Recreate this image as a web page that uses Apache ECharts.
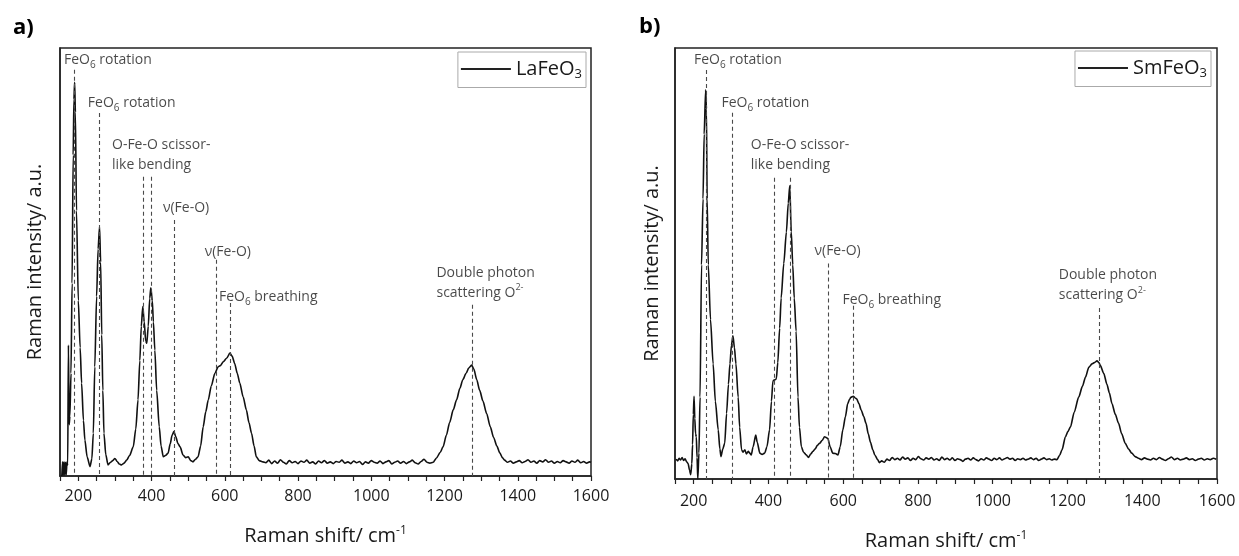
<!DOCTYPE html>
<html>
<head>
<meta charset="utf-8">
<script src="https://cdn.jsdelivr.net/npm/echarts@6/dist/echarts.min.js"></script>
<style>html,body{margin:0;padding:0;background:#fff}#c{width:1239px;height:556px}</style>
</head>
<body>
<div id="c"></div>
<script>
// ---------- Panel a: LaFeO3 ----------
const laX = [155,157,159,161,163,165,167,169,171,173,175,177,180,183,186,188,190,192,195,200,205,209,214,218,224,232,237,241,245,250,254,258,261,264,267,270,275,281,288,294,300,306,312,318,325,332,340,350,357,363,368,372,376,380,384,387,391,395,398,402,405,409,414,421,426,432,438,445,451,456,461,466,472,478,486,493,500,507,513,520,527,534,541,548,555,563,573,582,588,596,605,614,620,627,634,641,650,659,666,673,680,686,694,704,712,720,728,736,744,752,760,768,776,784,792,800,808,816,824,832,840,848,856,864,872,880,888,896,904,912,920,928,936,944,952,960,968,976,984,992,1000,1008,1016,1024,1032,1040,1048,1056,1064,1072,1080,1088,1096,1104,1112,1120,1128,1136,1144,1152,1160,1169,1178,1188,1196,1205,1214,1224,1233,1242,1250,1259,1266,1274,1280,1288,1296,1305,1315,1325,1334,1343,1351,1358,1364,1372,1380,1388,1396,1404,1412,1420,1428,1436,1444,1452,1460,1468,1476,1484,1492,1500,1508,1516,1524,1532,1540,1548,1556,1564,1572,1580,1588,1596,1600];
const laY = [0,3.3,0.2,3.3,0.2,3.2,0.3,3.3,2.5,30.6,12,14,24,45,75,88,92,85,62,41,30,21.7,13,8.4,4.5,2.2,4,10,25.5,42,53,58.2,50,33,20,10,5,2.6,3.2,3.6,4.1,3.4,2.8,2.6,3.0,3.7,4.8,6.8,11,17.8,27,35,39.6,36,31.5,31,35,41.5,44,41,36,29.4,20,11.5,7,4.5,4.8,5.3,7.5,9.5,10.4,9.2,7.6,6.8,4.9,4.3,4.5,3.6,3.3,3.9,4.5,7,11.5,15,17.8,21,24,25.5,25.8,26.7,27.5,28.7,28,26.3,24,21.7,18.5,15.4,12.5,10,7,4.5,3.6,3.3,3.1,3.7,2.9,3.5,3.0,3.8,3.2,2.8,3.6,3.1,3.4,2.9,3.5,3.2,3.7,3.0,3.3,2.8,3.5,3.1,3.6,3.0,3.3,2.9,3.4,3.2,3.7,3.0,3.3,2.9,3.5,3.1,3.4,2.7,3.3,3.0,3.6,3.2,3.0,3.5,2.9,3.3,3.6,2.8,3.2,3.5,3.0,3.4,2.9,3.3,3.7,3.1,2.8,3.4,3.9,3.2,3.0,3.2,4.2,5.5,6.8,9.5,12.5,15.5,17.8,20.5,22.5,24,25.2,25.9,25,22.5,20,17.5,14.6,11.5,9,7,5.4,4.3,3.7,3.2,3.5,3.0,3.3,3.6,3.1,3.4,3.8,3.2,3.5,3.0,3.6,3.3,3.8,3.2,3.5,3.0,3.4,3.1,3.6,3.3,3.0,3.5,3.2,3.7,3.1,3.4,3.0,3.3,3.2];
const laPeaks = [190,258,377,400,462,578,615,1275];
const laPeakTops = [94.9,84.8,69.9,69.9,59.8,50.5,40.4,40.0];
const laLabelTexts = ['FeO{sub|6} rotation','FeO{sub|6} rotation','O-Fe-O scissor-\nlike bending','ν(Fe-O)','ν(Fe-O)','FeO{sub|6} breathing','Double photon\nscattering O{sup|2-}'];
const laLabelX = [161,226,292,431,545,584,1178];
const laLabelY = [97.2,87.1,74.9,62.6,52.3,41.8,45.1];

// ---------- Panel b: SmFeO3 ----------
const smX = [153,157,161,165,169,173,177,181,185,189,192,195,197,199,201,203,205,207,209,211,214,217,221,225,228,232,234,236,239,245,252,258,265.6,270,273,278,283,288,293,297,301,305,309,313,319,323,328,332,337,341,346,350,354,359,366,370,377,383,390,396,403,408,412,417,421,425,430,434,441,448,453,457,461,465,469,474,479,483,488,494,501,507,513,519,525,531,537,544,550,555,559,565,572,579,586,592,599,606,612,617,621,627,632,636,642,648,655,661,667,673,679,685,692,697,703,710,717,724,731,738,745,752,759,766,773,780,787,794,801,808,815,822,829,836,843,850,857,864,871,878,885,892,899,906,913,920,927,934,941,948,955,962,969,976,983,990,997,1004,1011,1018,1025,1032,1039,1046,1053,1060,1067,1074,1081,1088,1095,1102,1109,1116,1123,1130,1137,1144,1151,1158,1165,1172,1179,1185.5,1194.5,1201,1208,1218,1230,1240,1248,1257,1265.5,1272,1279,1284,1288,1297,1305.5,1312,1319,1328,1336.7,1345,1354.5,1363,1372,1381,1390,1398,1406,1414,1422,1430,1438,1446,1454,1462,1470,1478,1486,1494,1502,1510,1518,1526,1534,1542,1550,1558,1566,1574,1582,1590,1598];
const smY = [4.6,4.2,4.8,4.4,5.0,4.3,4.7,4.0,3.6,2.0,1.0,3.5,8,15,19.2,14,10.5,9.8,5,0,6,19,49.7,65,80,90.3,86,65,49.7,37,26.7,18,11.4,7,5.2,7,8.3,15.2,22,26.7,31,33.2,30.5,26.7,19,12,6.8,6.2,6.8,5.8,6.4,6.0,5.6,7.5,10.2,8.5,6,5.7,6,7.5,11.4,18,22.8,23,23.2,27,35,42,50,57.3,64,68,57.4,49.7,42,34.3,19,12,7.5,6.2,5.6,5.0,5.8,6.4,7.0,7.8,8.3,9.0,9.8,9.6,9.4,7.5,6,5.9,5.6,7.5,11.4,14.5,17.5,18.5,19,19.2,18.8,18.6,17.5,16,14.5,12.9,10.5,8.5,6.8,5.5,4.5,3.8,4.2,3.9,4.6,4.3,5.0,4.5,4.8,4.4,5.1,4.6,4.9,4.3,4.8,4.5,5.2,4.7,4.4,4.9,4.6,5.0,4.4,4.7,4.3,5.1,4.5,4.8,4.4,4.9,4.3,4.7,4.5,4.1,4.6,4.8,4.4,4.9,4.5,4.2,4.7,4.4,4.9,4.6,4.3,4.8,4.5,4.9,4.4,4.7,5.0,4.6,4.8,4.3,4.7,4.5,4.8,4.4,4.6,4.9,4.5,4.8,4.3,4.6,4.9,4.5,4.7,4.4,4.6,4.5,5.5,6.8,9.8,11,12.1,15.5,19,21.5,23.6,25.9,26.7,27.0,27.4,27,26.3,24.5,22,20,17.5,15,12.9,10.5,8.3,7,6,5.2,4.8,4.5,4.9,4.6,4.4,4.8,4.5,5.0,4.6,4.3,4.7,5.1,4.5,4.8,4.4,4.6,4.9,4.5,4.7,4.3,4.6,4.8,4.4,4.7,4.5,4.8,4.6];
const smPeaks = [233,304,415,457,560,628,1285];
const smPeakTops = [94.9,85,69.9,69.9,50,40.2,39.7];
const smLabelTexts = ['FeO{sub|6} rotation','FeO{sub|6} rotation','O-Fe-O scissor-\nlike bending','ν(Fe-O)','FeO{sub|6} breathing','Double photon\nscattering O{sup|2-}'];
const smLabelX = [200.7,274.5,352.7,523,598,1176.7];
const smLabelY = [97.2,87.3,75.2,52.8,41.5,44.9];

const seriesNames = ['LaFeO3','SmFeO3'];
const tickLabelValues = [200,400,600,800,1000,1200,1400,1600];

const FONT = 'Open Sans';
const TXT = '#1a1a1a';
const zip = (a,b)=>a.map((v,i)=>[v,b[i]]);
const rich = {
  sub:{fontSize:10,fontFamily:FONT,color:TXT,verticalAlign:'bottom',lineHeight:20,padding:[9,0,0,0]},
  sup:{fontSize:9,fontFamily:FONT,color:TXT,verticalAlign:'top',lineHeight:20,padding:[0,0,8,0]}
};

function xAxisCfg(grid, margin, gap){
  return {
    gridIndex:grid, type:'value', min:150, max:1600, interval:50,
    axisLine:{show:true,lineStyle:{color:'#222',width:1.5}},
    axisTick:{show:true,length:5,lineStyle:{color:'#222',width:1.2}},
    axisLabel:{fontSize:16,color:TXT,fontFamily:FONT,margin:margin,
      formatter:v=>tickLabelValues.indexOf(v)>=0?String(v):''},
    splitLine:{show:false},
    name:'Raman shift/ cm{sup|-1}', nameLocation:'middle', nameGap:gap,
    nameTextStyle:{fontSize:20,color:TXT,fontFamily:FONT,
      rich:{sup:{fontSize:12,fontFamily:FONT,color:TXT,verticalAlign:'top',padding:[0,0,10,0]}}}
  };
}
function yAxisCfg(grid, gap){
  return {
    gridIndex:grid, type:'value', min:0, max:100,
    axisLine:{show:true,lineStyle:{color:'#222',width:1.5}},
    axisTick:{show:false}, axisLabel:{show:false}, splitLine:{show:false},
    name:'Raman intensity/ a.u.', nameLocation:'middle', nameGap:gap, nameRotate:90,
    nameTextStyle:{fontSize:20,color:TXT,fontFamily:FONT}
  };
}
function spectrum(name, idx, xs, ys, peaks, tops){
  return {
    name:name, type:'line', xAxisIndex:idx, yAxisIndex:idx,
    data:zip(xs,ys), symbol:'none', smooth:0.25, smoothMonotone:'x',
    lineStyle:{color:'#111',width:1.6}, itemStyle:{color:'#111'},
    markLine:{silent:true, symbol:['none','none'], animation:false,
      label:{show:false},
      lineStyle:{type:[4,3],color:'#4a4a4a',width:1.1},
      data:peaks.map((p,i)=>[{coord:[p,tops[i]]},{coord:[p,0]}])}
  };
}
function labels(idx, xs, ys, texts){
  return {
    type:'scatter', xAxisIndex:idx, yAxisIndex:idx, symbolSize:0, silent:true,
    data:zip(xs,ys),
    label:{show:true, position:'right', distance:0, fontSize:14, color:TXT, fontFamily:FONT,
      lineHeight:20, formatter:p=>texts[p.dataIndex], rich:rich}
  };
}
function legendCfg(name, right, top){
  return {
    data:[name], right:right, top:top, orient:'vertical',
    icon:'rect', itemWidth:50, itemHeight:2, padding:[7,4,7,3],
    itemStyle:{color:'#222'},
    borderColor:'#aaa', borderWidth:1, borderRadius:0,
    textStyle:{fontSize:20,color:TXT,fontFamily:FONT,
      rich:{s:{fontSize:13,fontFamily:FONT,color:TXT,verticalAlign:'bottom',padding:[10,0,0,0]}}},
    formatter:n=>n.replace(/3$/,'')+'{s|3}'
  };
}

const chart = echarts.init(document.getElementById('c'), null, {renderer:'canvas'});
chart.setOption({
  animation:false,
  backgroundColor:'#fff',
  title:[
    {text:'a)', left:8, top:12, textStyle:{fontSize:22,fontWeight:'bold',color:'#000',fontFamily:FONT}},
    {text:'b)', left:634, top:11, textStyle:{fontSize:22,fontWeight:'bold',color:'#000',fontFamily:FONT}}
  ],
  grid:[
    {left:60, top:48, width:531, height:428, show:true, borderColor:'#222', borderWidth:1.5},
    {left:675, top:48, width:542, height:435, show:true, borderColor:'#222', borderWidth:1.5}
  ],
  xAxis:[xAxisCfg(0,12,49), xAxisCfg(1,14,51)],
  yAxis:[yAxisCfg(0,15), yAxisCfg(1,13)],
  legend:[legendCfg(seriesNames[0], 1239-586, 52), legendCfg(seriesNames[1], 1239-1211, 51)],
  series:[
    spectrum(seriesNames[0],0,laX,laY,laPeaks,laPeakTops),
    labels(0,laLabelX,laLabelY,laLabelTexts),
    spectrum(seriesNames[1],1,smX,smY,smPeaks,smPeakTops),
    labels(1,smLabelX,smLabelY,smLabelTexts)
  ]
});
</script>
</body>
</html>
